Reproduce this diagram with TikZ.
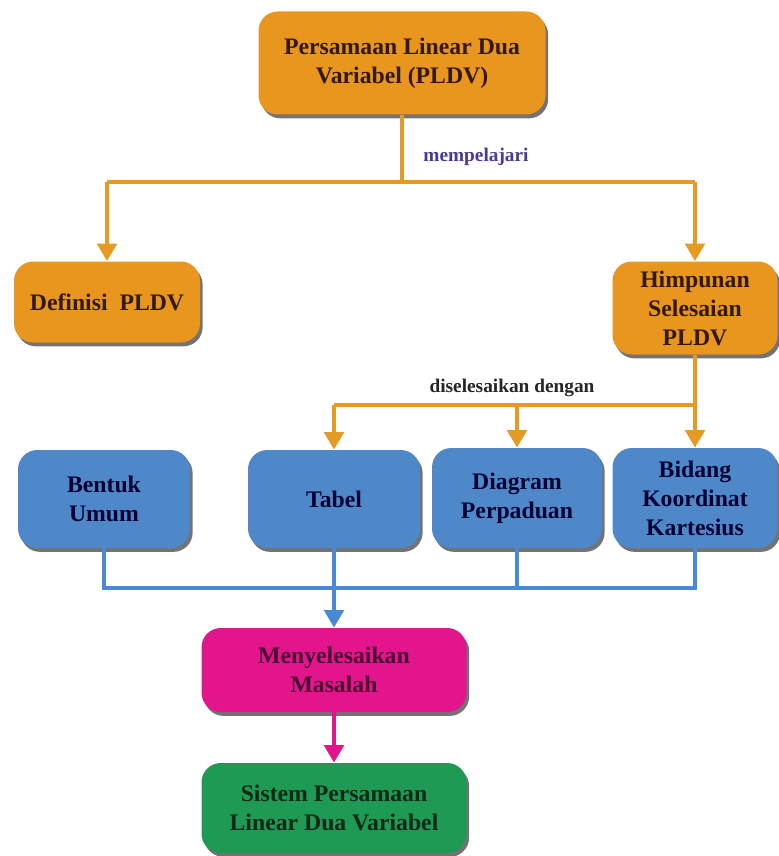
\documentclass[tikz,border=0pt]{standalone}
\usepackage{fontspec}
\setmainfont{Liberation Serif}
\usetikzlibrary{shapes, arrows.meta, shadows}

\definecolor{oranye}{RGB}{232,150,30}
\definecolor{garisoranye}{RGB}{229,154,37}
\definecolor{biru}{RGB}{79,136,200}
\definecolor{garisbiru}{RGB}{74,138,212}
\definecolor{merahmuda}{RGB}{226,21,140}
\definecolor{hijau}{RGB}{30,154,85}
\definecolor{ungu}{RGB}{74,58,152}
\definecolor{teksmerah}{RGB}{72,10,48}
\definecolor{tekshijau}{RGB}{10,40,22}
\definecolor{teksoranye}{RGB}{50,25,10}

\begin{document}
\begin{tikzpicture}[
		kotak/.style={rectangle, rounded corners=11pt, align=center, inner sep=2pt,
			font=\fontsize{13.5}{16.5}\selectfont\bfseries,
			drop shadow={shadow xshift=1.5pt, shadow yshift=-2.2pt, fill=black, opacity=0.55}},
		kotakoranye/.style={kotak, fill=oranye, text=teksoranye},
		kotakbiru/.style={kotak, fill=biru, text=blue!20!black},
		garis/.style={line width=2.8pt},
		panah/.style={garis, -{Triangle[width=11pt,length=10pt]}},
		keterangan/.style={font=\fontsize{11}{13}\selectfont\bfseries}
	]
		\useasboundingbox (0,0) rectangle (15.56,-17.12);
		\def\yo{-3.64}
		\def\yd{-8.1}
		\def\yb{-11.76}
		% kotak
		\node[kotakoranye, minimum width=5.74cm, minimum height=2.06cm] (pldv) at (8.04,-1.26) {Persamaan Linear Dua\\Variabel (PLDV)};
		\node[kotakoranye, minimum width=3.72cm, minimum height=1.62cm] (def) at (2.14,-6.04) {Definisi\ \ PLDV};
		\node[kotakoranye, minimum width=3.3cm, minimum height=1.86cm] (him) at (13.9,-6.16) {Himpunan\\Selesaian\\PLDV};
		\node[kotakbiru, minimum width=3.44cm, minimum height=1.96cm] (bu) at (2.08,-9.98) {Bentuk\\Umum};
		\node[kotakbiru, minimum width=3.44cm, minimum height=1.96cm] (tab) at (6.68,-9.98) {Tabel};
		\node[kotakbiru, minimum width=3.4cm, minimum height=2.0cm] (dp) at (10.34,-9.96) {Diagram\\Perpaduan};
		\node[kotakbiru, minimum width=3.3cm, minimum height=2.0cm] (bk) at (13.9,-9.96) {Bidang\\Koordinat\\Kartesius};
		\node[kotak, fill=merahmuda, text=teksmerah, minimum width=5.3cm, minimum height=1.68cm] (mm) at (6.68,-13.4) {Menyelesaikan\\Masalah};
		\node[kotak, fill=hijau, text=tekshijau, minimum width=5.3cm, minimum height=1.8cm] (spldv) at (6.68,-16.16) {Sistem Persamaan\\Linear Dua Variabel};
		% titik cabang
		\coordinate (c0) at (8.04,\yo);
		\coordinate (c1) at (13.9,\yd);
		\coordinate (c2) at (13.9,\yb);
		% garis oranye
		\draw[garis, garisoranye] (pldv) -- (c0);
		\draw[garis, garisoranye] (def.north |- c0) -- (him.north |- c0);
		\draw[panah, garisoranye] (def.north |- c0) -- (def);
		\draw[panah, garisoranye] (him.north |- c0) -- (him);
		\node[keterangan, text=ungu] (l0) at (9.52,-3.14) {mempelajari};
		\draw[garis, garisoranye] (him) -- (c1);
		\draw[garis, garisoranye] (tab.north |- c1) -- (c1);
		\draw[panah, garisoranye] (tab.north |- c1) -- (tab);
		\draw[panah, garisoranye] (dp.north |- c1) -- (dp);
		\draw[panah, garisoranye] (c1) -- (bk);
		\node[keterangan, text=black!85] (l1) at (10.24,-7.76) {diselesaikan dengan};
		% garis biru
		\draw[garis, garisbiru] (bu) |- (c2) -- (bk);
		\draw[garis, garisbiru] (dp) -- (dp.south |- c2);
		\draw[panah, garisbiru] (tab) -- (mm);
		\draw[panah, merahmuda] (mm) -- (spldv);
	\end{tikzpicture}
\end{document}
